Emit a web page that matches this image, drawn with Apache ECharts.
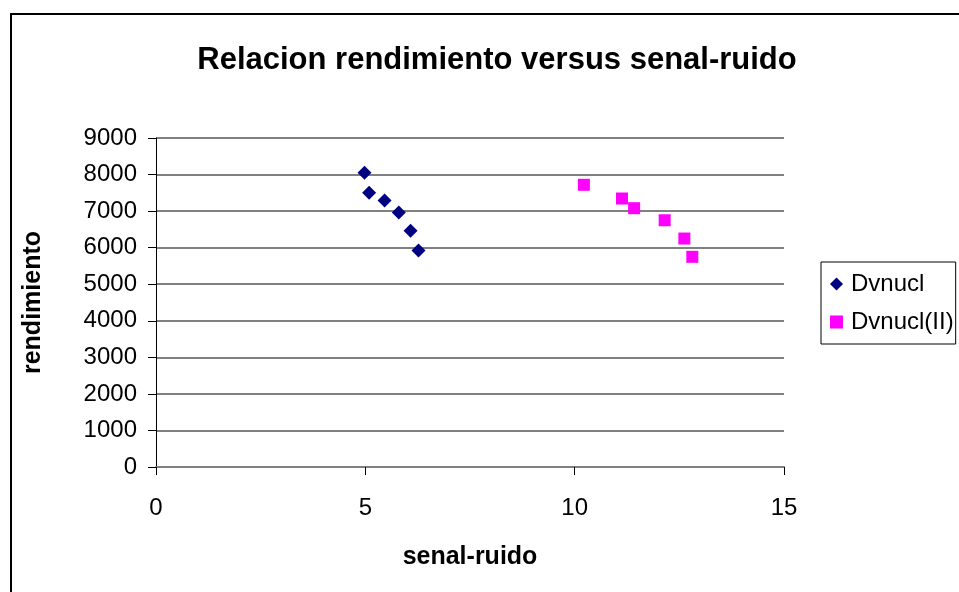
<!DOCTYPE html>
<html>
<head>
<meta charset="utf-8">
<script src="https://cdn.jsdelivr.net/npm/echarts@6/dist/echarts.min.js"></script>
<style>
  html, body { margin: 0; padding: 0; background: #fff; }
  #main { width: 959px; height: 592px; }
</style>
</head>
<body>
<div id="main"></div>
<script>
// datos
var seriesNames = ["Dvnucl", "Dvnucl(II)"];
var dvnuclX = [4.98, 5.09, 5.46, 5.80, 6.08, 6.27];
var dvnuclY = [8050, 7500, 7290, 6960, 6460, 5920];
var dvnucl2X = [10.22, 11.13, 11.42, 12.15, 12.62, 12.81];
var dvnucl2Y = [7720, 7345, 7080, 6750, 6250, 5750];

function pairs(xs, ys) {
    return xs.map(function (x, i) { return [x, ys[i]]; });
}

var font = "Liberation Sans, Arial, sans-serif";
var myChart = echarts.init(document.getElementById("main"));
var option = {
    backgroundColor: "#fff",
    textStyle: { fontFamily: font },
    animation: false,
    title: {
        text: "Relacion rendimiento versus senal-ruido",
        left: 492,
        top: 40,
        textAlign: "center",
        textStyle: { fontSize: 31, fontWeight: "bold", color: "#000", fontFamily: font },
    },
    graphic: [
        {
            type: "rect",
            shape: { x: 11, y: 14, width: 960, height: 600 },
            style: { fill: "none", stroke: "#000", lineWidth: 2 },
        },
    ],
    legend: {
        orient: "vertical",
        left: 821,
        top: 262,
        width: 136,
        padding: [10, 2, 10, 9],
        itemGap: 14,
        itemWidth: 13,
        itemHeight: 13,
        borderColor: "#000",
        borderWidth: 1,
        textStyle: { fontSize: 24, color: "#000", fontFamily: font, padding: [0, 0, 0, 3] },
        data: [
            { name: seriesNames[0], icon: "diamond" },
            { name: seriesNames[1], icon: "rect" },
        ],
    },
    grid: { left: 156, right: 175, top: 138, bottom: 125 },
    xAxis: {
        type: "value",
        min: 0,
        max: 15,
        interval: 5,
        name: "senal-ruido",
        nameLocation: "middle",
        nameGap: 78,
        nameTextStyle: { fontSize: 25, fontWeight: "bold", color: "#000" },
        axisLine: { show: true, onZero: false, lineStyle: { color: "#808080", width: 2 } },
        axisTick: { show: true, length: 8, lineStyle: { color: "#000" } },
        axisLabel: { fontSize: 24, color: "#000", margin: 29 },
        splitLine: { show: false },
    },
    yAxis: {
        type: "value",
        min: 0,
        max: 9000,
        interval: 1000,
        name: "rendimiento",
        nameLocation: "middle",
        nameGap: 110,
        nameRotate: 90,
        nameTextStyle: { fontSize: 25, fontWeight: "bold", color: "#000" },
        axisLine: { show: true, lineStyle: { color: "#000", width: 1 } },
        axisTick: { show: true, length: 8, lineStyle: { color: "#000" } },
        axisLabel: { fontSize: 24, color: "#000", margin: 19, formatter: function (v) { return String(v); } },
        splitLine: { show: true, lineStyle: { color: "#808080", width: 2 } },
    },
    series: [
        {
            name: seriesNames[0],
            type: "scatter",
            symbol: "diamond",
            symbolSize: 14,
            itemStyle: { color: "#000080", opacity: 1 },
            data: pairs(dvnuclX, dvnuclY),
        },
        {
            name: seriesNames[1],
            type: "scatter",
            symbol: "rect",
            symbolSize: 12,
            itemStyle: { color: "#FF00FF", opacity: 1 },
            data: pairs(dvnucl2X, dvnucl2Y),
        },
    ],
};
myChart.setOption(option);
</script>
</body>
</html>
